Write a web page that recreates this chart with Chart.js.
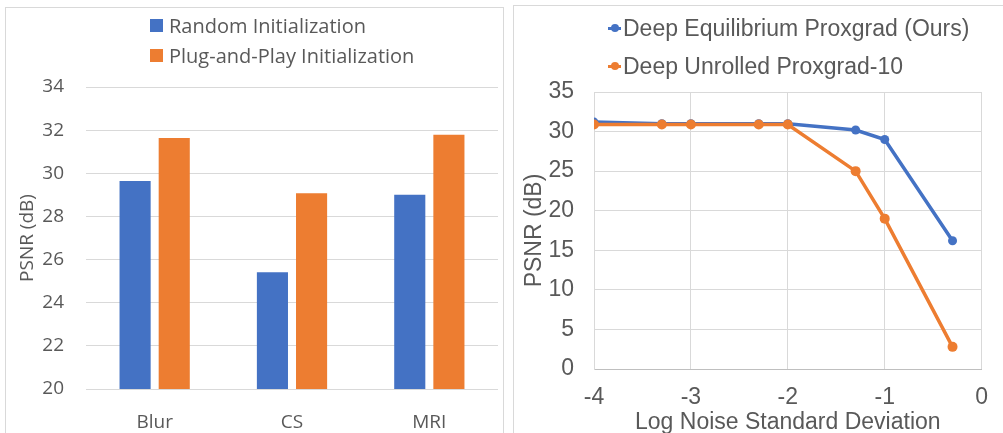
<!DOCTYPE html>
<html>
<head>
<meta charset="utf-8">
<script src="https://cdn.jsdelivr.net/npm/chart.js@4.4.0/dist/chart.umd.min.js"></script>
<style>
    html, body { margin: 0; padding: 0; background: #ffffff; overflow: hidden; width: 1003px; height: 433px; }
    .panel { position: absolute; border: 1px solid #d9d9d9; box-sizing: border-box; }
    canvas { position: absolute; }
    .legend { position: absolute; color: #595959; white-space: nowrap; }
    .legend .item { position: absolute; left: 0; }
    .legend .box { position: absolute; }
</style>
</head>
<body>
<div class="panel" style="left:5px; top:7px; width:499px; height:440px;"></div>
<div class="panel" style="left:513px; top:5px; width:500px; height:440px;"></div>

<canvas id="barCanvas" width="498" height="430" style="left:5px; top:7px;"></canvas>
<canvas id="lineCanvas" width="490" height="440" style="left:513px; top:5px;"></canvas>

<div id="barLegend" class="legend" style="left:150px; top:0px; font-family:'Open Sans', sans-serif; font-size:20px;"></div>
<div id="lineLegend" class="legend" style="left:608px; top:0px; font-family:'Liberation Sans', Arial, sans-serif; font-size:23px;"></div>

<script>
// left chart: PSNR per task
var tasks = ['Blur', 'CS', 'MRI'];
var randomInit = [29.64, 25.41, 29.0];
var pnpInit = [31.63, 29.07, 31.79];
var barTicks = { min: 20, max: 34, step: 2 };

// right chart: PSNR vs log noise std
var logNoise = [-4, -3.3, -3, -2.3, -2, -1.3, -1, -0.3];
var deqProxgrad = [31.2, 31.0, 31.0, 31.0, 31.0, 30.2, 29.0, 16.2];
var unrolledProxgrad = [30.9, 30.9, 30.9, 30.9, 30.9, 25.0, 19.0, 2.8];
var lineTicksX = { min: -4, max: 0, step: 1 };
var lineTicksY = { min: 0, max: 35, step: 5 };

var BLUE = '#4472C4';
var ORANGE = '#ED7D31';
var GRID = '#d9d9d9';
var TEXT = '#595959';

Chart.defaults.animation = false;

function makePoints(xs, ys) {
    var pts = [];
    for (var i in xs) {
        pts.push({ x: xs[i], y: ys[i] });
    }
    return pts;
}

var barChart = new Chart(document.getElementById('barCanvas'), {
    type: 'bar',
    data: {
        labels: tasks,
        datasets: [
            {
                label: 'Random Initialization',
                backgroundColor: BLUE,
                data: randomInit,
                categoryPercentage: 0.57,
                barPercentage: 0.795
            },
            {
                label: 'Plug-and-Play Initialization',
                backgroundColor: ORANGE,
                data: pnpInit,
                categoryPercentage: 0.57,
                barPercentage: 0.795
            }
        ]
    },
    options: {
        responsive: false,
        layout: { padding: { left: 0, top: 80, right: 5, bottom: 0 } },
        plugins: { legend: { display: false }, tooltip: { enabled: false } },
        scales: {
            x: {
                grid: { display: false },
                border: { display: false },
                ticks: { color: TEXT, padding: 14, font: { family: 'Open Sans', size: 19 } },
                afterFit: function (scale) { scale.height = 48; }
            },
            y: {
                min: barTicks.min,
                max: barTicks.max,
                grid: { color: GRID, lineWidth: 1, drawTicks: false },
                border: { display: false },
                ticks: { stepSize: barTicks.step, color: TEXT, padding: 22, font: { family: 'Open Sans', size: 19 } },
                title: {
                    display: true,
                    text: 'PSNR (dB)',
                    color: TEXT,
                    font: { family: 'Open Sans', size: 19 },
                    padding: { top: 11, bottom: 0 }
                },
                afterFit: function (scale) { scale.width = 81; }
            }
        }
    }
});

var lineChart = new Chart(document.getElementById('lineCanvas'), {
    type: 'line',
    data: {
        datasets: [
            {
                label: 'Deep Equilibrium Proxgrad (Ours)',
                borderColor: BLUE,
                backgroundColor: BLUE,
                data: makePoints(logNoise, deqProxgrad),
                borderWidth: 3.5,
                pointRadius: 4.5,
                pointBorderWidth: 0,
                lineTension: 0,
                order: 1
            },
            {
                label: 'Deep Unrolled Proxgrad-10',
                borderColor: ORANGE,
                backgroundColor: ORANGE,
                data: makePoints(logNoise, unrolledProxgrad),
                borderWidth: 3.5,
                pointRadius: 5,
                pointBorderWidth: 0,
                lineTension: 0,
                order: 0
            }
        ]
    },
    options: {
        responsive: false,
        layout: { padding: { left: 0, top: 87, right: 21, bottom: 0 } },
        plugins: { legend: { display: false }, tooltip: { enabled: false } },
        scales: {
            x: {
                type: 'linear',
                min: lineTicksX.min,
                max: lineTicksX.max,
                grid: { color: GRID, drawTicks: false },
                border: { color: '#bfbfbf' },
                ticks: { stepSize: lineTicksX.step, color: TEXT, padding: 15, font: { family: 'Liberation Sans', size: 23 } },
                title: {
                    display: true,
                    text: 'Log Noise Standard Deviation',
                    color: TEXT,
                    font: { family: 'Liberation Sans', size: 23 },
                    padding: { top: 0, bottom: 9 }
                },
                afterFit: function (scale) { scale.height = 76; }
            },
            y: {
                min: lineTicksY.min,
                max: lineTicksY.max,
                grid: { color: GRID, drawTicks: false },
                border: { color: GRID },
                ticks: { stepSize: lineTicksY.step, color: TEXT, padding: 20, font: { family: 'Liberation Sans', size: 23 } },
                title: {
                    display: true,
                    text: 'PSNR (dB)',
                    color: TEXT,
                    font: { family: 'Liberation Sans', size: 23 },
                    padding: { top: 8, bottom: 0 }
                },
                afterFit: function (scale) { scale.width = 81; }
            }
        }
    }
});

// legends stacked in a column, built from the chart datasets
function barLegend(chart) {
    var el = document.getElementById('barLegend');
    var rows = [26, 56];
    chart.data.datasets.forEach(function (ds, i) {
        var y = rows[i];
        el.innerHTML +=
            '<div class="box" style="left:0px; top:' + (y - 7) + 'px; width:13px; height:13px; background:' + ds.backgroundColor + ';"></div>' +
            '<div class="item" style="left:19px; top:' + (y - 14) + 'px; line-height:28px;">' + ds.label + '</div>';
    });
}

function lineLegend(chart) {
    var el = document.getElementById('lineLegend');
    var rows = [28, 66];
    chart.data.datasets.forEach(function (ds, i) {
        var y = rows[i];
        el.innerHTML +=
            '<div class="box" style="left:0px; top:' + (y - 1.5) + 'px; width:13px; height:3px; background:' + ds.borderColor + ';"></div>' +
            '<div class="box" style="left:2.5px; top:' + (y - 4) + 'px; width:8px; height:8px; border-radius:4px; background:' + ds.borderColor + ';"></div>' +
            '<div class="item" style="left:15px; top:' + (y - 15) + 'px; line-height:30px;">' + ds.label + '</div>';
    });
}

barLegend(barChart);
lineLegend(lineChart);
</script>
</body>
</html>
